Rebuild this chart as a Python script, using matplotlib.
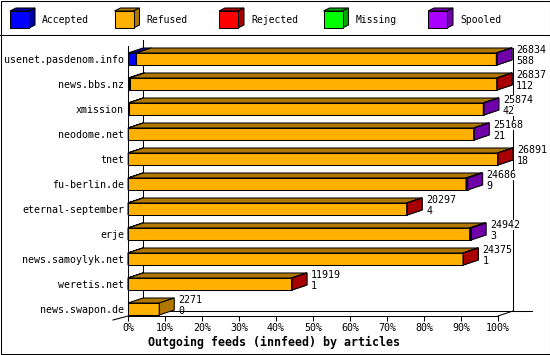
import matplotlib
matplotlib.use('Agg')
import matplotlib.pyplot as plt
from matplotlib.patches import Polygon, Rectangle

plt.rcParams['font.family'] = 'DejaVu Sans Mono'

# innfeed outgoing feeds, articles per peer
hosts = ['usenet.pasdenom.info', 'news.bbs.nz', 'xmission', 'neodome.net', 'tnet',
         'fu-berlin.de', 'eternal-september', 'erje', 'news.samoylyk.net',
         'weretis.net', 'news.swapon.de']
offered = [26834, 26837, 25874, 25168, 26891, 24686, 20297, 24942, 24375, 11919, 2271]
accepted = [588, 112, 42, 21, 18, 9, 4, 3, 1, 1, 0]
refused = [26186, 26695, 25782, 25107, 26848, 24557, 20253, 24829, 24354, 11903, 2271]
rejected = [0, 30, 0, 0, 25, 0, 40, 0, 20, 15, 0]
missing = [0, 0, 0, 0, 0, 0, 0, 0, 0, 0, 0]
spooled = [60, 0, 50, 40, 0, 120, 0, 110, 0, 0, 0]

names = ['Accepted', 'Refused', 'Rejected', 'Missing', 'Spooled']
fronts = ['#0000ff', '#ffb000', '#ff0000', '#00ff00', '#aa00ff']
sides = ['#0000a8', '#b07800', '#a80000', '#00a800', '#7000a8']

W, H = 550, 355
LW = 0.75
fig = plt.figure(figsize=(W / 100, H / 100), dpi=100)
ax = fig.add_axes([128 / W, (H - 316) / H, 370 / W, 275 / H])

n = len(hosts)
series = [accepted, refused, rejected, missing, spooled]
totals = [sum(s[i] for s in series) for i in range(n)]
xmax = max(totals)
ax.set_xlim(0, xmax)
ax.set_ylim(n, 0)

dx = 15 / 370 * xmax   # depth, 15 px sideways
dy = 0.2               # depth, 5 px up
bh = 0.48              # bar height (12 px)

for i in range(n):
    top = i + 0.48
    bot = top + bh
    left = 0
    for k, s in enumerate(series):
        v = s[i]
        if v == 0:
            continue
        right = left + v
        ax.barh(top + bh / 2, v, left=left, height=bh, color=fronts[k],
                edgecolor='black', lw=LW, zorder=3, clip_on=False)
        ax.add_patch(Polygon([(left, top), (right, top), (right + dx, top - dy), (left + dx, top - dy)],
                             fc=sides[k], ec='black', lw=LW, zorder=3, clip_on=False))
        ax.add_patch(Polygon([(right, top), (right, bot), (right + dx, bot - dy), (right + dx, top - dy)],
                             fc=sides[k], ec='black', lw=LW, zorder=3, clip_on=False))
        left = right
    for txt, yy in ((offered[i], i + 0.36), (accepted[i], i + 0.8)):
        ax.annotate(str(txt), xy=(totals[i], yy), xytext=(19 * 0.72, 0),
                    textcoords='offset points', va='center', ha='left', fontsize=7.2,
                    bbox=dict(fc='white', ec='none', pad=0), zorder=1.5,
                    annotation_clip=False)

# back walls and floor
kw = dict(color='black', lw=LW, clip_on=False)
ax.plot([dx, dx], [-0.04, n - 0.2], zorder=1, **kw)
ax.plot([xmax + dx] * 2, [0.28, n - 0.2], zorder=1, **kw)
ax.plot([dx, xmax * 404 / 370], [n - 0.2, n - 0.2], zorder=2, **kw)
ax.plot([xmax, xmax + dx], [n, n - 0.2], zorder=2, **kw)
ax.plot([-dx, 0], [n + 0.16, n], zorder=2, **kw)

ax.set_xticks([xmax * k / 10 for k in range(11)], [f'{10 * k}%' for k in range(11)])
ax.set_yticks([i + 0.72 for i in range(n)], hosts)
ax.tick_params(axis='x', length=3.6, width=LW, direction='out', pad=1.5, labelsize=7.2)
ax.tick_params(axis='y', length=0, pad=2.9, labelsize=7.2)
for sp in ('top', 'right'):
    ax.spines[sp].set_visible(False)
ax.spines['left'].set_bounds(0.2, n)
ax.spines['left'].set_linewidth(LW)
ax.spines['bottom'].set_linewidth(LW)

# frame, legend and title
ov = fig.add_axes([0, 0, 1, 1])
ov.set_xlim(0, W)
ov.set_ylim(H, 0)
ov.axis('off')
ov.patch.set_alpha(0)
ov.add_patch(Rectangle((0.5, 0.5), W - 1, H - 2, fill=False, ec='black', lw=LW))
ov.plot([0, W], [35, 35], color='black', lw=LW)
for k, name in enumerate(names):
    x0, y0, w, h = 10 + 104.5 * k, 11, 19, 17
    ov.add_patch(Polygon([(x0, y0), (x0 + w, y0), (x0 + w + 6, y0 - 3), (x0 + 6, y0 - 3)],
                         fc=sides[k], ec='black', lw=LW))
    ov.add_patch(Polygon([(x0 + w, y0), (x0 + w, y0 + h), (x0 + w + 6, y0 + h - 3), (x0 + w + 6, y0 - 3)],
                         fc=sides[k], ec='black', lw=LW))
    ov.add_patch(Rectangle((x0, y0), w, h, fc=fronts[k], ec='black', lw=LW))
    ov.text(x0 + 32, 20, name, va='center', ha='left', fontsize=7.0)
ov.text(274, 342, 'Outgoing feeds (innfeed) by articles', ha='center', va='center',
        fontweight='bold', fontsize=8.4)

fig.savefig('out.png', dpi=100)
